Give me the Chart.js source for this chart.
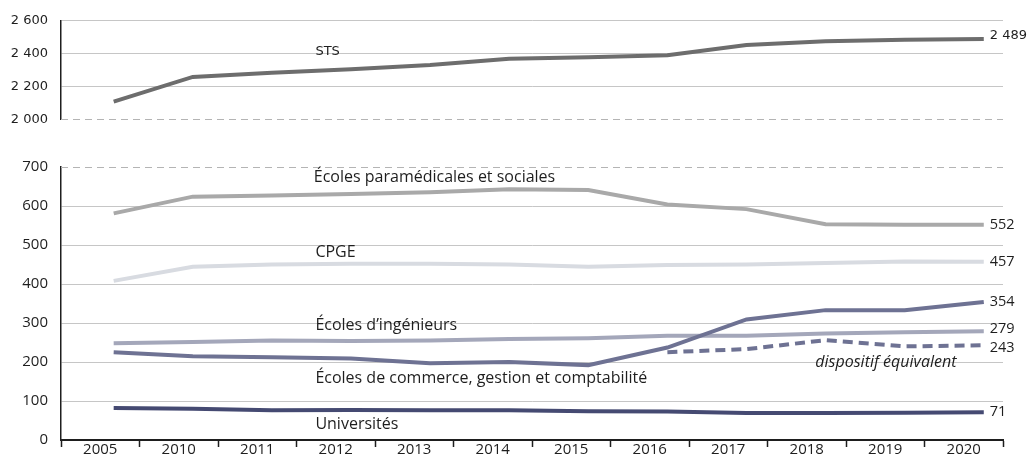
<!DOCTYPE html>
<html>
<head>
<meta charset="utf-8">
<script src="https://cdn.jsdelivr.net/npm/chart.js@4.4.1/dist/chart.umd.min.js"></script>
<style>
  html, body { margin: 0; background: #fff; }
  #wrap { position: relative; width: 1031px; height: 462px; overflow: hidden; }
  .panel { position: absolute; left: 0; width: 1031px; }
</style>
</head>
<body>
<div id="wrap">
  <div class="panel" style="top:0;height:140px"><canvas id="chartTop"></canvas></div>
  <div class="panel" style="top:140px;height:322px"><canvas id="chartBottom"></canvas></div>
</div>
<script>
// categories
const years = ['2005', '2010', '2011', '2012', '2013', '2014', '2015', '2016', '2017', '2018', '2019', '2020'];

// series (milliers)
const sts          = [2107, 2258, 2283, 2305, 2330, 2368, 2377, 2390, 2453, 2475, 2485, 2489];
const paramedical  = [581, 624, 627, 631, 635, 643, 641, 604, 592, 553, 552, 552];
const cpge         = [408, 444, 450, 452, 452, 450, 444, 449, 450, 454, 458, 457];
const ingenieurs   = [248, 251, 255, 254, 255, 259, 261, 267, 267, 273, 276, 279];
const commerce     = [225, 215, 212, 209, 197, 200, 192, 237, 309, 333, 333, 354];
const equivalent   = [null, null, null, null, null, null, null, 225, 233, 256, 240, 243];
const universites  = [82, 80, 76, 77, 76, 76, 74, 73, 69, 69, 70, 71];

// tick labels
const topTicks = [2000, 2200, 2400, 2600];
const bottomTicks = [0, 100, 200, 300, 400, 500, 600, 700];

const fmt = v => String(v).replace(/\B(?=(\d{3})+(?!\d))/g, ' ');
const pts = arr => arr.map((v, i) => ({ x: i, y: v })).filter(p => p.y !== null);

const DARK = '#1e1e1e';
const GRID = '#c6c6c6';
const PLOT_LEFT = 61;

// lines are offset inside each year band, so they sit on their own hidden linear axis
const dataAxis = { type: 'linear', display: false, min: -0.666, max: 11.243 };

// end-of-line values + free text labels
const labelsPlugin = {
  id: 'seriesLabels',
  afterDatasetsDraw(chart, args, opts) {
    const ctx = chart.ctx;
    const xs = chart.scales.xd, ys = chart.scales.y;
    ctx.save();
    ctx.textBaseline = 'middle';
    chart.data.datasets.forEach(ds => {
      if (!ds.endLabel) return;
      const last = ds.data[ds.data.length - 1];
      ctx.font = opts.endFont;
      ctx.fillStyle = DARK;
      ctx.textAlign = 'left';
      ctx.fillText(fmt(last.y), xs.getPixelForValue(last.x) + 6, ys.getPixelForValue(last.y) + (ds.labelDy || 0));
    });
    (opts.texts || []).forEach(t => {
      ctx.font = t.font || opts.textFont;
      ctx.fillStyle = DARK;
      ctx.textAlign = 'left';
      ctx.fillText(t.text, xs.getPixelForValue(t.x), ys.getPixelForValue(t.y));
    });
    ctx.restore();
  }
};

// dashed separator line of the broken axis
const dashedGrid = {
  id: 'dashedGrid',
  beforeDatasetsDraw(chart, args, opts) {
    const y = Math.round(chart.scales.y.getPixelForValue(opts.value)) + 0.5;
    const ctx = chart.ctx;
    ctx.save();
    ctx.strokeStyle = '#b4b4b4';
    ctx.lineWidth = 1;
    ctx.setLineDash([7, 5]);
    ctx.beginPath();
    ctx.moveTo(chart.chartArea.left, y);
    ctx.lineTo(chart.chartArea.right, y);
    ctx.stroke();
    ctx.restore();
  }
};

function yAxis(ticks, hidden, font) {
  return {
    min: ticks[0],
    max: ticks[ticks.length - 1],
    afterBuildTicks: s => { s.ticks = ticks.map(v => ({ value: v })); },
    afterFit: s => { s.width = PLOT_LEFT; },
    grid: {
      drawTicks: false,
      color: c => hidden.includes(c.tick && c.tick.value) ? 'rgba(0,0,0,0)' : GRID,
      lineWidth: 1
    },
    border: { color: DARK, width: 1.5 },
    ticks: { padding: 13, color: DARK, font: font, callback: v => fmt(v) }
  };
}

function line(data, color, extra) {
  return Object.assign({
    data: pts(data),
    xAxisID: 'xd',
    borderColor: color,
    borderWidth: 4,
    pointRadius: 0,
    tension: 0,
    fill: false
  }, extra || {});
}

const common = {
  responsive: true,
  maintainAspectRatio: false,
  animation: false,
  events: [],
  plugins: { legend: { display: false }, tooltip: { enabled: false } }
};

new Chart(document.getElementById('chartTop'), {
  type: 'line',
  data: {
    datasets: [line(sts, '#6d6d6d', { endLabel: true, labelDy: -3 })]
  },
  options: Object.assign({}, common, {
    layout: { padding: { top: 20, bottom: 14, left: 0, right: 28 } },
    scales: {
      xd: dataAxis,
      y: yAxis(topTicks, [2000], { family: 'DejaVu Sans', size: 13 })
    },
    plugins: Object.assign({}, common.plugins, {
      dashedGrid: { value: 2000 },
      seriesLabels: {
        endFont: '13px "DejaVu Sans"',
        textFont: '13px "DejaVu Sans"',
        texts: [{ text: 'STS', x: 2.55, y: 2411 }]
      }
    })
  }),
  plugins: [dashedGrid, labelsPlugin]
});

new Chart(document.getElementById('chartBottom'), {
  type: 'line',
  data: {
    datasets: [
      line(universites, '#454a72', { endLabel: true }),
      line(commerce, '#6e7293', { endLabel: true }),
      line(equivalent, '#6e7293', { endLabel: true, borderDash: [10, 6], labelDy: 3 }),
      line(ingenieurs, '#a4a7ba', { endLabel: true, labelDy: -2 }),
      line(cpge, '#d8dbe1', { endLabel: true }),
      line(paramedical, '#a9a9a9', { endLabel: true })
    ]
  },
  options: Object.assign({}, common, {
    layout: { padding: { top: 27, bottom: 0, left: 0, right: 28 } },
    scales: {
      x: {
        type: 'category',
        labels: years,
        offset: true,
        afterFit: s => { s.height = 22; },
        grid: {
          offset: true,
          drawOnChartArea: false,
          tickLength: 7,
          tickColor: DARK,
          tickWidth: 1.5
        },
        border: { color: DARK, width: 2 },
        ticks: { padding: -6, color: DARK, font: { family: 'Open Sans', size: 15 }, maxRotation: 0, autoSkip: false }
      },
      xd: dataAxis,
      y: yAxis(bottomTicks, [0, 700], { family: 'Open Sans', size: 15 })
    },
    plugins: Object.assign({}, common.plugins, {
      dashedGrid: { value: 700 },
      seriesLabels: {
        endFont: '14.5px "Open Sans"',
        textFont: '16px "Open Sans"',
        texts: [
          { text: 'Écoles paramédicales et sociales', x: 2.53, y: 674 },
          { text: 'CPGE', x: 2.55, y: 482 },
          { text: 'Écoles d’ingénieurs', x: 2.55, y: 295 },
          { text: 'Écoles de commerce, gestion et comptabilité', x: 2.55, y: 159 },
          { text: 'Universités', x: 2.55, y: 41 },
          { text: 'dispositif équivalent', x: 8.87, y: 200, font: 'italic 16px "Open Sans"' }
        ]
      }
    })
  }),
  plugins: [dashedGrid, labelsPlugin]
});
</script>
</body>
</html>
